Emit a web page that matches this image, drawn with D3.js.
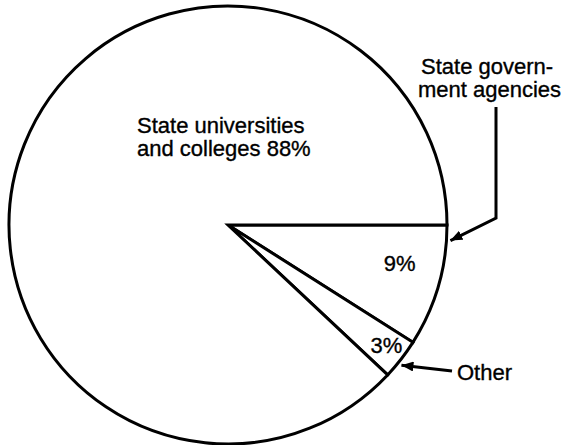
<!DOCTYPE html>
<html>
  <head>
      <meta charset="utf-8">
      <title>State research funding pie</title>
      <script type="text/javascript" src="https://cdn.jsdelivr.net/npm/d3@7"></script>
      <style>
        body { margin: 0; background: white; }
        text { font-family: "Liberation Sans", Arial, sans-serif; fill: black; stroke: black; stroke-width: 0.35px; }
      </style>
  </head>
  <body>

<script type="text/javascript">
// slices go clockwise from 3 o'clock
var categories = ["State government agencies", "Other", "State universities and colleges"];
var shares = [9, 3, 88];
var pctLabels = ["9%", "3%", "88%"];

var w = 565;
var h = 445;
var cx = 228, cy = 225, r = 219;

var svg = d3.select("body")
            .append("svg")
            .attr("width", w)
            .attr("height", h);

var defs = svg.append("defs");
defs.append("marker")
    .attr("id", "head")
    .attr("viewBox", "0 0 12 10")
    .attr("refX", 12)
    .attr("refY", 5)
    .attr("markerWidth", 12)
    .attr("markerHeight", 10)
    .attr("markerUnits", "userSpaceOnUse")
    .attr("orient", "auto")
  .append("path")
    .attr("d", "M0,0 L12,5 L0,10 Z")
    .attr("fill", "black");

var pie = d3.pie()
            .sort(null)
            .value(function(d){ return d; })
            .startAngle(Math.PI / 2)
            .endAngle(Math.PI / 2 + 2 * Math.PI);
var arcs = pie(shares);

var arc = d3.arc()
            .innerRadius(0)
            .outerRadius(r);

var g = svg.append("g")
           .attr("transform", "translate(" + cx + "," + cy + ")");

g.selectAll("path.slice")
 .data(arcs)
 .enter()
 .append("path")
 .attr("class", "slice")
 .attr("d", arc)
 .attr("fill", "white")
 .attr("stroke", "black")
 .attr("stroke-width", 3)
 .attr("stroke-linejoin", "miter");

// point on the rim at a d3 angle (0 = up, clockwise)
function rim(a, rr) {
  return [cx + rr * Math.sin(a), cy - rr * Math.cos(a)];
}

// percent labels inside the small slices
var pctPos = [
  {a: arcs[0].startAngle + 0.22, rr: 176},
  {a: (arcs[1].startAngle + arcs[1].endAngle) / 2 - 0.01, rr: 199}
];
pctPos.forEach(function(p, i){
  var pt = rim(p.a, p.rr);
  svg.append("text")
     .attr("x", pt[0])
     .attr("y", pt[1] + 8)
     .attr("text-anchor", "middle")
     .style("font-size", "22px")
     .text(pctLabels[i]);
});

// big slice label
var big = svg.append("text")
             .attr("x", 137)
             .attr("y", 133)
             .style("font-size", "22px");
big.append("tspan").attr("x", 137).text("State universities");
big.append("tspan").attr("x", 137).attr("dy", 23).text("and colleges " + pctLabels[2]);

// callout: state government agencies
var gov = svg.append("text")
             .attr("x", 421)
             .attr("y", 74)
             .style("font-size", "22px");
gov.append("tspan").attr("x", 421).text("State govern-");
gov.append("tspan").attr("x", 418).attr("dy", 23).text("ment agencies");

var tipGov = rim(arcs[0].startAngle + 0.07, r + 4);
svg.append("polyline")
   .attr("points", [[496, 107], [496, 218], tipGov].map(function(p){ return p.join(","); }).join(" "))
   .attr("fill", "none")
   .attr("stroke", "black")
   .attr("stroke-width", 3)
   .attr("marker-end", "url(#head)");

// callout: other
svg.append("text")
   .attr("x", 457)
   .attr("y", 380)
   .style("font-size", "22px")
   .text(categories[1]);

var tipOther = rim((arcs[1].startAngle + arcs[1].endAngle) / 2 + 0.02, r + 4);
svg.append("line")
   .attr("x1", 452)
   .attr("y1", 371)
   .attr("x2", tipOther[0])
   .attr("y2", tipOther[1])
   .attr("stroke", "black")
   .attr("stroke-width", 3)
   .attr("marker-end", "url(#head)");
</script>

  </body>
</html>
